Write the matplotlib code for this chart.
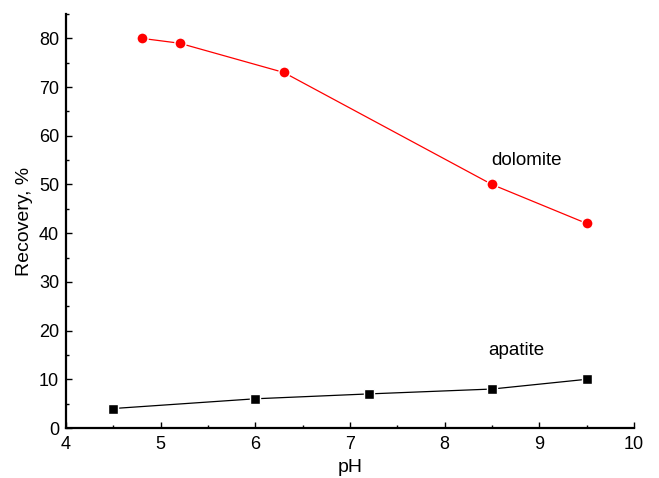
import matplotlib
matplotlib.use("Agg")
from matplotlib import pyplot as plt
from matplotlib.ticker import MultipleLocator

plt.rcParams['font.family'] = ['Liberation Sans', 'DejaVu Sans']

ph_dolomite = [4.8, 5.2, 6.3, 8.5, 9.5]
rec_dolomite = [80, 79, 73, 50, 42]
ph_apatite = [4.5, 6.0, 7.2, 8.5, 9.5]
rec_apatite = [4, 6, 7, 8, 10]

fig = plt.figure(figsize=(6.59, 4.78), dpi=100)
ax = fig.add_axes([0.1002, 0.1046, 0.8618, 0.8661])

ax.plot(ph_dolomite, rec_dolomite, color='red', lw=0.9, marker='o', ms=8,
        mfc='red', mec='white', mew=1.0)
ax.plot(ph_apatite, rec_apatite, color='black', lw=0.9, marker='s', ms=7,
        mfc='black', mec='white', mew=1.0)

ax.text(8.49, 55, 'dolomite', fontsize=13.5, va='center', ha='left')
ax.text(8.46, 16, 'apatite', fontsize=13.5, va='center', ha='left')

ax.set_xlim(4, 10)
ax.set_ylim(0, 85)
ax.xaxis.set_major_locator(MultipleLocator(1))
ax.xaxis.set_minor_locator(MultipleLocator(0.5))
ax.yaxis.set_major_locator(MultipleLocator(10))
ax.yaxis.set_minor_locator(MultipleLocator(5))
ax.tick_params(which='both', direction='in', width=1, labelsize=13)
ax.tick_params(which='major', length=4)
ax.tick_params(which='minor', length=2.5)
ax.tick_params(axis='y', pad=5)
ax.tick_params(axis='x', pad=6)

for s in ['top', 'right']:
    ax.spines[s].set_visible(False)
for s in ['left', 'bottom']:
    ax.spines[s].set_linewidth(1.6)

ax.set_xlabel('pH', fontsize=14, labelpad=4)
ax.set_ylabel('Recovery, %', fontsize=14, labelpad=4)

fig.savefig('out.png', dpi=100)
